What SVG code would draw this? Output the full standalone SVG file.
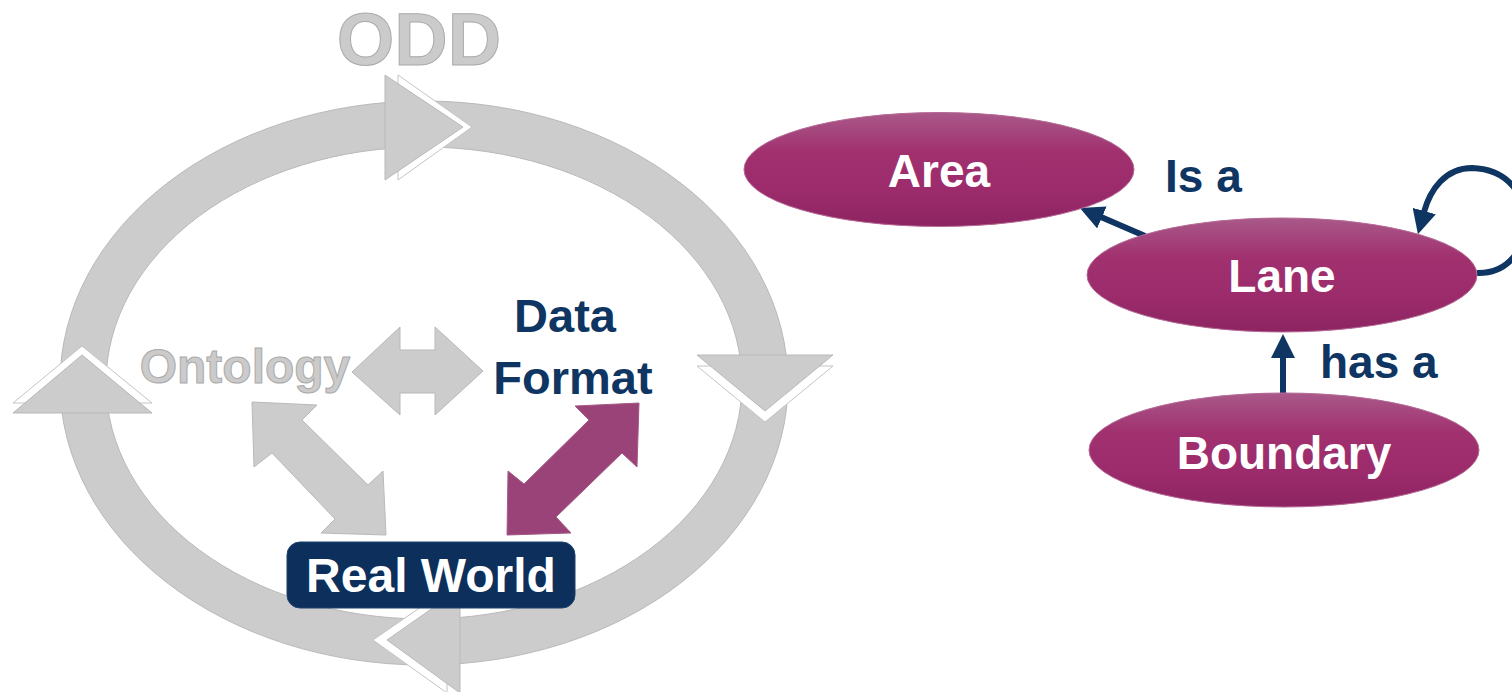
<svg xmlns="http://www.w3.org/2000/svg" width="1512" height="692" viewBox="0 0 1512 692">
<style>
.grey{fill:#cccccc;stroke:#b9b9b9;stroke-width:1}
.chev{fill:#ffffff;stroke:#c4c4c4;stroke-width:1}
.gtext{font-family:"Liberation Sans",Arial,sans-serif;font-weight:bold;fill:#cbcbcb;stroke:#aaaaaa;stroke-width:1}
.ntext{font-family:"Liberation Sans",Arial,sans-serif;font-weight:bold;fill:#0f3562}
.wtext{font-family:"Liberation Sans",Arial,sans-serif;font-weight:bold;fill:#ffffff;text-anchor:middle}
.node{fill:url(#pg);stroke:#b56a95;stroke-width:1}
.conn{fill:none;stroke:#0f3562;stroke-width:6}
</style>
<defs>
<linearGradient id="pg" x1="0" y1="0" x2="0" y2="1">
<stop offset="0" stop-color="#a9598a"/>
<stop offset="0.35" stop-color="#a1306f"/>
<stop offset="0.7" stop-color="#9b2b6b"/>
<stop offset="1" stop-color="#8d2461"/>
</linearGradient>
<marker id="ah" markerUnits="userSpaceOnUse" viewBox="0 0 24 24" markerWidth="24" markerHeight="24" refX="1" refY="12" orient="auto">
<path d="M0,0 L24,12 L0,24 z" fill="#0f3562"/>
</marker>
</defs>

<g id="cycle">
<path class="grey" fill-rule="evenodd" d="M60,383 A364,282 0 1 0 788,383 A364,282 0 1 0 60,383 Z M106,383 A318,236 0 1 0 742,383 A318,236 0 1 0 106,383 Z"/>
<polygon class="chev" points="398,75 472,127 398,180"/>
<polygon class="grey" points="385,75 463,127 385,180"/>
<polygon class="chev" points="697,366 833,366 765,422"/>
<polygon class="grey" points="697,355 833,355 765,411"/>
<polygon class="chev" points="447,589 373,640 447,693"/>
<polygon class="grey" points="460,589 387,640 460,693"/>
<polygon class="chev" points="13,403 82,346 152,403"/>
<polygon class="grey" points="13,413 82,355 152,413"/>
</g>

<g id="odd-label">
<text class="gtext" x="419" y="65" font-size="74" text-anchor="middle">ODD</text>
</g>

<g id="inner-arrows">
<polygon class="grey" points="352,372 400,327 400,350 435,350 435,327 483,371 435,415 435,393 400,393 400,415"/>
<polygon class="grey" points="252,402 317,405 302,420 368,485 383,471 386,535 321,533 335,519 272,453 254,467"/>
<polygon fill="#9a4379" stroke="#a45a85" stroke-width="1" points="639,403 575,406 589,420 524,484 508,471 507,535 571,533 556,517 622,453 637,467"/>
</g>

<g id="ontology">
<text class="gtext" x="245" y="383" font-size="48" text-anchor="middle">Ontology</text>
</g>

<g id="data-format">
<text class="ntext" x="565" y="332" font-size="47" text-anchor="middle">Data</text>
<text class="ntext" x="573" y="394" font-size="47" text-anchor="middle">Format</text>
</g>

<g id="real-world">
<rect x="287" y="542" width="288" height="66" rx="13" ry="13" fill="#0c2f5c" stroke="#1d4170" stroke-width="1"/>
<text class="wtext" x="431" y="592" font-size="48">Real World</text>
</g>

<g id="connectors">
<line class="conn" x1="1145" y1="236" x2="1101" y2="217" marker-end="url(#ah)"/>
<line class="conn" x1="1283" y1="393" x2="1283" y2="357" marker-end="url(#ah)"/>
<path class="conn" stroke-width="7" d="M1477,273 C1540,275 1545,170 1472,168 C1445,168 1430,190 1424,212" marker-end="url(#ah)"/>
<text class="ntext" x="1165" y="192" font-size="46">Is a</text>
<text class="ntext" x="1320" y="378" font-size="46">has a</text>
</g>

<g id="area">
<ellipse class="node" cx="939" cy="169.5" rx="195" ry="57"/>
<text class="wtext" x="939" y="187" font-size="46">Area</text>
</g>

<g id="lane">
<ellipse class="node" cx="1282" cy="275" rx="195" ry="57"/>
<text class="wtext" x="1282" y="292" font-size="46">Lane</text>
</g>

<g id="boundary">
<ellipse class="node" cx="1284" cy="450" rx="195" ry="57"/>
<text class="wtext" x="1284" y="469" font-size="46">Boundary</text>
</g>
</svg>
